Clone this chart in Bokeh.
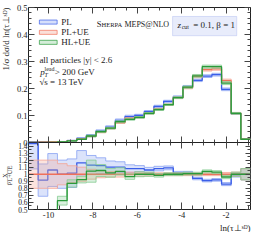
import numpy as np
from bokeh.plotting import figure
from bokeh.models import Range1d, FixedTicker, LinearAxis, Label, BoxAnnotation, Title
from bokeh.layouts import column, row
from bokeh.embed import file_html
from bokeh.resources import INLINE

# ---------------- data ----------------
bin_edges = [-10.9, -10.465, -10.03, -9.596, -9.161, -8.726, -8.291, -7.857, -7.422,
             -6.987, -6.552, -6.117, -5.683, -5.248, -4.813, -4.378, -3.943, -3.509,
             -3.074, -2.639, -2.204, -1.770, -1.335, -0.9]
series_names = ["PL", "PL+UE", "HL+UE"]
pl = [0.00086, 0.0011, 0.00265, 0.0032, 0.007, 0.0151, 0.026, 0.0426, 0.0572, 0.0814,
      0.0961, 0.1004, 0.1145, 0.1339, 0.1526, 0.1693, 0.2071, 0.2303, 0.2457, 0.2512,
      0.1969, 0.1069, 0.012]
pl_ue = [0.0006, 0.0012, 0.0025, 0.0032, 0.0069, 0.013, 0.023, 0.038, 0.052, 0.074,
         0.089, 0.093, 0.108, 0.124, 0.140, 0.166, 0.203, 0.245, 0.270, 0.273,
         0.229, 0.108, 0.012]
hl_ue = [0.0, 0.0, 0.0005, 0.002, 0.006, 0.012, 0.024, 0.040, 0.053, 0.077,
         0.086, 0.093, 0.108, 0.122, 0.140, 0.166, 0.205, 0.247, 0.281, 0.281,
         0.220, 0.108, 0.012]
pl_err = [0.25, 0.25, 0.22, 0.2, 0.2, 0.15, 0.12, 0.1, 0.08, 0.07, 0.05, 0.04, 0.035,
          0.03, 0.025, 0.02, 0.02, 0.02, 0.02, 0.02, 0.025, 0.03, 0.08]
pl_ue_err = [0.2, 0.2, 0.2, 0.15, 0.12, 0.1, 0.07, 0.05, 0.04, 0.04, 0.03, 0.03, 0.025,
             0.02, 0.02, 0.02, 0.02, 0.02, 0.02, 0.02, 0.025, 0.03, 0.08]
hl_ue_err = [0.5, 0.5, 0.5, 0.1, 0.06, 0.05, 0.15, 0.08, 0.06, 0.05, 0.04, 0.035, 0.03,
             0.025, 0.02, 0.02, 0.02, 0.02, 0.02, 0.02, 0.025, 0.03, 0.08]

main_yticks = [0, 0.1, 0.2, 0.3, 0.4, 0.5]
main_ylabels = ["0", "0.1", "0.2", "0.3", "0.4", "0.5"]
ratio_yticks = [0.5, 0.6, 0.7, 0.8, 0.9, 1.0, 1.1, 1.2, 1.3, 1.4]
ratio_ylabels = ["0.5", "0.6", "0.7", "0.8", "0.9", "1", "1.1", "1.2", "1.3", "1.4"]
xticks = [-10, -8, -6, -4, -2]
xlabels = ["-10", "-8", "-6", "-4", "-2"]

# ---------------- style ----------------
FONT = "Liberation Serif"
TXT = "#222222"
line_cols = ["#3b5ee8", "#f0705a", "#2a9a3a"]
fill_cols = ["#89a2f3", "#f4a493", "#86cc92"]
TICK = "#444444"

edges = np.array(bin_edges)
vals = [np.array(pl), np.array(pl_ue), np.array(hl_ue)]
errs = [np.array(pl_err), np.array(pl_ue_err), np.array(hl_ue_err)]
den = vals[1]


def ext(a):
    a = np.asarray(a, dtype=float)
    return np.append(a, a[-1])


xr = Range1d(-10.9, -0.9)
x_minor = list(np.arange(-10.5, -0.9, 0.5))
main_minor = list(np.arange(0.0, 0.5001, 0.02))
ratio_minor = list(np.arange(0.5, 1.451, 0.05))


def style_axis(ax, ticks, minor, labels=None, show=True, tick_in=6, minor_in=3,
               size="8.5px", standoff=2):
    ax.ticker = FixedTicker(ticks=ticks, minor_ticks=minor)
    ax.axis_line_color = None
    ax.major_tick_in = tick_in
    ax.major_tick_out = 0
    ax.minor_tick_in = minor_in
    ax.minor_tick_out = 0
    ax.major_tick_line_color = TICK
    ax.minor_tick_line_color = TICK
    ax.major_label_text_font = FONT
    ax.major_label_text_color = TXT
    if show:
        ax.major_label_text_font_size = size
        ax.major_label_standoff = standoff
        ax.major_label_overrides = {t: l for t, l in zip(ticks, labels)}
    else:
        ax.major_label_text_font_size = "1px"
        ax.major_label_standoff = 0
        ax.major_label_overrides = {t: "" for t in ticks}


def make_fig(h, yr, top, bottom, **kw):
    f = figure(width=245, height=h, x_range=xr, y_range=yr, output_backend="svg",
               toolbar_location=None, min_border_left=12, min_border_right=8,
               min_border_top=top, min_border_bottom=bottom, **kw)
    f.grid.visible = False
    f.outline_line_color = "#222222"
    f.outline_line_width = 1
    f.background_fill_color = "white"
    return f


def draw_series(f, y, lo, hi, i):
    f.varea_step(x=edges, y1=ext(lo), y2=ext(hi), step_mode="after",
                 fill_color=fill_cols[i], fill_alpha=0.3)
    f.step(x=edges, y=ext(lo), mode="after", line_color=fill_cols[i], line_width=1, line_alpha=0.8)
    f.step(x=edges, y=ext(hi), mode="after", line_color=fill_cols[i], line_width=1, line_alpha=0.8)
    f.step(x=edges, y=ext(y), mode="after", line_color=line_cols[i], line_width=1.3)


def lab(f, x, y, t, size="9px", style="normal"):
    f.add_layout(Label(x=x, y=y, text=t, text_font=FONT, text_font_size=size,
                       text_font_style=style, text_baseline="middle", text_color=TXT))


# ---------------- main panel ----------------
p = make_fig(146, Range1d(0, 0.5), 7, 4)
p.border_fill_color = "white"
for i in range(3):
    draw_series(p, vals[i], vals[i] * (1 - errs[i]), vals[i] * (1 + errs[i]), i)

style_axis(p.yaxis[0], main_yticks, main_minor, main_ylabels, True, standoff=1)
style_axis(p.xaxis[0], xticks, x_minor, show=False)
ax_r = LinearAxis(); style_axis(ax_r, main_yticks, main_minor, show=False)
p.add_layout(ax_r, "right")
ax_t = LinearAxis(); style_axis(ax_t, xticks, x_minor, show=False)
p.add_layout(ax_t, "above")

# legend
leg_y = [0.446, 0.408, 0.371]
for i in range(3):
    p.add_layout(BoxAnnotation(left=-10.41, right=-9.61, bottom=leg_y[i] - 0.0075,
                               top=leg_y[i] + 0.0075, fill_color=fill_cols[i], fill_alpha=0.35,
                               line_color=line_cols[i], line_alpha=0.7, line_width=1))
    lab(p, -9.43, leg_y[i], series_names[i])

lab(p, -10.41, 0.307, "all particles |y| < 2.6")
lab(p, -10.37, 0.262, "p", style="italic")
lab(p, -10.18, 0.251, "T", size="6px", style="italic")
lab(p, -10.18, 0.274, "lead", size="6px")
lab(p, -9.72, 0.262, "> 200 GeV")
lab(p, -10.41, 0.225, "√s = 13 TeV")

# generator label (small caps)
lab(p, -7.83, 0.438, "S", size="8.5px")
lab(p, -7.61, 0.438, "HERPA", size="6.5px")
lab(p, -6.58, 0.438, "MEPS@NLO", size="8px")

# parameter box
p.add_layout(BoxAnnotation(left=-4.41, right=-1.52, bottom=0.3955, top=0.4667,
                           fill_color="#e8ecfb", fill_alpha=1.0, line_color="#8fa0ea",
                           line_width=1))
lab(p, -4.19, 0.436, "z", style="italic")
lab(p, -4.00, 0.427, "cut", size="6px")
lab(p, -3.48, 0.436, "= 0.1, β = 1")

# ---------------- ratio panel ----------------
r = make_fig(90, Range1d(0.5, 1.45), 0, 22, margin=(-4, 0, 0, 0))
r.border_fill_alpha = 0.0
for i in range(3):
    draw_series(r, vals[i] / den, vals[i] * (1 - errs[i]) / den, vals[i] * (1 + errs[i]) / den, i)

style_axis(r.yaxis[0], ratio_yticks, ratio_minor, ratio_ylabels, True, tick_in=5, minor_in=3,
           size="7.5px", standoff=1)
style_axis(r.xaxis[0], xticks, x_minor, xlabels, True, tick_in=7, minor_in=4)
rr = LinearAxis(); style_axis(rr, ratio_yticks, ratio_minor, show=False, tick_in=5, minor_in=3)
r.add_layout(rr, "right")
rt = LinearAxis(); style_axis(rt, xticks, x_minor, show=False)
r.add_layout(rt, "above")
r.add_layout(Title(text="ln(τ⊥ˢᴰ)", align="right", text_font=FONT, text_font_size="9px",
                   text_font_style="normal", text_color=TXT, standoff=0), "below")

# ---------------- left strip with the rotated axis titles ----------------
s = figure(width=13, height=232, x_range=Range1d(8, 21), y_range=Range1d(0, 232),
           output_backend="svg", toolbar_location=None, x_axis_type=None, y_axis_type=None,
           min_border=0)
s.grid.visible = False
s.outline_line_color = None
s.add_layout(Label(x=13.5, y=225, text="1/σ dσ/d ln(τ⊥ˢᴰ)", angle=np.pi / 2,
                   text_align="right", text_baseline="middle", text_font=FONT,
                   text_font_size="9px", text_color=TXT))
for xx, t, sz in [(12.0, "X", "6px"), (14.6, "―――", "6px"), (17.2, "PL+UE", "6.5px")]:
    s.add_layout(Label(x=xx, y=57, text=t, angle=np.pi / 2, text_align="center",
                       text_baseline="middle", text_font=FONT, text_font_size=sz,
                       text_color=TXT))

layout = row(s, column(p, r, spacing=0), spacing=0)
open("out.html", "w").write(file_html(layout, INLINE))
